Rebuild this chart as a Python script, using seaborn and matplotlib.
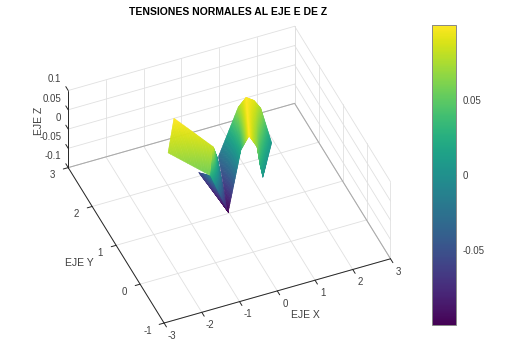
import numpy as np
import matplotlib
matplotlib.use('Agg')
import matplotlib.pyplot as plt
import seaborn as sns
from matplotlib.cm import ScalarMappable
from matplotlib.colors import Normalize

x_ticks = [-3, -2, -1, 0, 1, 2, 3]
y_ticks = [-1, 0, 1, 2, 3]
z_ticks = [-0.1, -0.05, 0, 0.05, 0.1]
z_tick_labels = ['-0.1', '-0.05', '0', '0.05', '0.1']
cbar_ticks = [-0.05, 0, 0.05]
cbar_tick_labels = ['-0.05', '0', '0.05']
z_min = -0.0995
z_max = 0.0995

# sheets, two rows of points each
back_x = [[-0.342, -0.359], [-0.012, -0.012]]
back_y = [[1.743, 1.224], [1.026, 1.026]]
back_z = [[-0.06, -0.015], [-0.0995, -0.0995]]

flat_x = [[-0.998, -0.413], [-1.482, -0.734]]
flat_y = [[1.741, 1.014], [1.225, 0.633]]
flat_z = [[0.0995, 0.082], [0.075, 0.055]]

fold_x = [[-0.413, -0.035], [-0.557, -0.012]]
fold_y = [[1.014, 1.445], [0.911, 1.026]]
fold_z = [[0.082, 0.0], [0.022, -0.0995]]

rise_x = [[0.163, 0.749, 0.918], [-0.012, 0.476, 0.448]]
rise_y = [[1.715, 1.813, 1.749], [1.026, 1.260, 0.885]]
rise_z = [[-0.03, 0.072, 0.0995], [-0.0995, 0.025, 0.0995]]

fall_x = [[0.918, 1.106, 1.259, 1.370], [0.448, 0.687, 0.694, 0.689]]
fall_y = [[1.749, 1.715, 1.668, 1.390], [0.885, 0.931, 0.818, 0.686]]
fall_z = [[0.0995, 0.09, 0.07, 0.005], [0.0995, 0.06, 0.025, 0.005]]


def shade_interp(values, steps=30):
    # same idea as octave's shading interp: split each facet so the colour runs smoothly
    values = np.asarray(values, dtype=float)
    cols = np.linspace(0, values.shape[1] - 1, (values.shape[1] - 1) * steps + 1)
    rows = np.linspace(0, 1, steps + 1)
    top = np.interp(cols, range(values.shape[1]), values[0])
    bottom = np.interp(cols, range(values.shape[1]), values[1])
    return np.outer(1 - rows, top) + np.outer(rows, bottom)


def draw_sheet(ax, xs, ys, zs, order, cmap, norm):
    X = shade_interp(xs)
    Y = shade_interp(ys)
    Z = shade_interp(zs)
    ax.plot_surface(X, Y, Z, facecolors=cmap(norm(Z)), rstride=1, cstride=1,
                    shade=False, linewidth=0.3, antialiased=True, zorder=order)


def draw_box(ax):
    grid = {'color': '#e0e0e0', 'lw': 0.6, 'zorder': 1}
    bottom, top = z_ticks[0], z_ticks[-1]
    xa, xb = x_ticks[0], x_ticks[-1]
    ya, yb = y_ticks[0], y_ticks[-1]
    for x in x_ticks:
        ax.plot([x, x], [ya, yb], [bottom, bottom], **grid)
        ax.plot([x, x], [yb, yb], [bottom, top], **grid)
    for y in y_ticks:
        ax.plot([xa, xb], [y, y], [bottom, bottom], **grid)
        ax.plot([xb, xb], [y, y], [bottom, top], **grid)
    for z in z_ticks:
        ax.plot([xa, xb], [yb, yb], [z, z], **grid)
        ax.plot([xb, xb], [ya, yb], [z, z], **grid)
    edge = {'color': '#a8a8a8', 'lw': 0.7, 'zorder': 2}
    ax.plot([xa, xb], [yb, yb], [bottom, bottom], **edge)
    ax.plot([xb, xb], [ya, yb], [bottom, bottom], **edge)

    axis = {'color': '#262626', 'lw': 0.7, 'zorder': 2}
    ax.plot([xa, xb], [ya, ya], [bottom, bottom], **axis)
    ax.plot([xa, xa], [ya, yb], [bottom, bottom], **axis)
    ax.plot([xa, xa], [yb, yb], [bottom, top], **axis)

    text = {'fontsize': 7, 'color': '#404040'}
    for x in x_ticks:
        ax.plot([x, x], [ya, ya - 0.1], [bottom, bottom], **axis)
        ax.text(x, ya - 0.33, bottom, str(x), ha='center', va='center', **text)
    for y in y_ticks:
        ax.plot([xa, xa - 0.13], [y, y], [bottom, bottom], **axis)
        ax.text(xa - 0.47, y - 0.07, bottom, str(y), ha='center', va='center', **text)
    for z, label in zip(z_ticks, z_tick_labels):
        ax.plot([xa, xa], [yb, yb + 0.1], [z, z], **axis)
        ax.text(xa, yb + 0.29, z, label, ha='right', va='center', **text)


def main():
    sns.set_theme(style='white')
    plt.rcParams['font.family'] = ['Liberation Sans', 'DejaVu Sans']
    cmap = sns.color_palette('viridis', as_cmap=True)
    norm = Normalize(z_min, z_max)

    fig = plt.figure(figsize=(5.12, 3.59), dpi=100)
    ax = fig.add_axes([45 / 512, 0, 359 / 512, 1], projection='3d', computed_zorder=False)
    ax.set_proj_type('ortho')
    ax.view_init(elev=42.7, azim=-112.7)
    ax.set_box_aspect((248, 251, 106), zoom=0.986)
    ax.set_xlim(-3, 3, view_margin=0)
    ax.set_ylim(-1, 3, view_margin=0)
    ax.set_zlim(-0.1, 0.1, view_margin=0)
    ax.set_xticks([])
    ax.set_yticks([])
    ax.set_zticks([])
    ax.set_axis_off()
    ax.patch.set_alpha(0)

    draw_box(ax)
    draw_sheet(ax, back_x, back_y, back_z, 3, cmap, norm)
    draw_sheet(ax, flat_x, flat_y, flat_z, 4, cmap, norm)
    draw_sheet(ax, fold_x, fold_y, fold_z, 5, cmap, norm)
    draw_sheet(ax, rise_x, rise_y, rise_z, 6, cmap, norm)
    draw_sheet(ax, fall_x, fall_y, fall_z, 7, cmap, norm)

    fig.text(228 / 512, 1 - 12 / 359, 'TENSIONES NORMALES AL EJE E DE Z', fontsize=7.5,
             fontweight='bold', color='black', ha='center', va='center')
    label = {'fontsize': 7.5, 'color': '#404040', 'ha': 'center', 'va': 'center'}
    fig.text(305 / 512, 1 - 315 / 359, 'EJE X', **label)
    fig.text(79 / 512, 1 - 263 / 359, 'EJE Y', **label)
    fig.text(39 / 512, 1 - 121 / 359, 'EJE Z', rotation=90, **label)

    cax = fig.add_axes([432 / 512, 1 - 325 / 359, 24 / 512, 300 / 359])
    cbar = fig.colorbar(ScalarMappable(norm=norm, cmap=cmap), cax=cax)
    cbar.set_ticks(cbar_ticks, labels=cbar_tick_labels)
    cbar.ax.tick_params(direction='in', length=2, width=0.6, left=True, right=True,
                        labelsize=7, labelcolor='#404040', color='#262626', pad=5)
    cbar.outline.set_edgecolor('#888888')
    cbar.outline.set_linewidth(0.7)

    fig.savefig('out.png', dpi=100)


if __name__ == '__main__':
    main()
